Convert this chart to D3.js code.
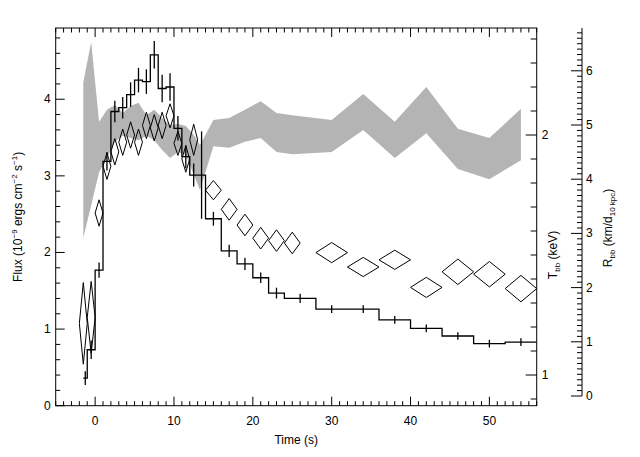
<!DOCTYPE html>
<html><head><meta charset="utf-8">
<script src="https://cdn.jsdelivr.net/npm/d3@7"></script>
<style>body{margin:0;background:#fff}svg{font-family:"Liberation Sans",Arial,sans-serif}</style>
</head><body><svg id="c" width="640" height="457"></svg>
<script>
// Flux histogram: bin edges and values (10^-9 erg cm^-2 s^-1)
const fluxEdges = [-1.5,-1,0,1,2,3,4,5,6,7,8,9,10,11,12,13,14,16,18,20,22,24,28,32,36,40,44,48,52,56];
const fluxVals  = [0.36,0.73,1.77,3.19,3.84,3.89,4.06,4.25,4.23,4.58,4.14,4.16,3.62,3.25,3.01,3.01,2.44,2.02,1.85,1.67,1.47,1.40,1.26,1.26,1.12,1.01,0.91,0.81,0.83];
const fluxErr   = [0.09,0.12,0.10,0.12,0.14,0.14,0.16,0.16,0.16,0.18,0.18,0.18,0.16,0.15,0.15,0.57,0.09,0.08,0.08,0.07,0.07,0.06,0.05,0.05,0.05,0.05,0.05,0.05,0.05];
// Blackbody temperature (diamonds)
const tbbTime = [-1.5,-0.5,0.5,1.5,2.5,3.5,4.5,5.5,6.5,7.5,8.5,9.5,10.5,11.5,12.5,15,17,19,21,23,25,30,34,38,42,46,50,54];
const tbbHalfW= [0.5,0.5,0.5,0.5,0.5,0.5,0.5,0.5,0.5,0.5,0.5,0.5,0.5,0.5,0.5,1,1,1,1,1,1,2,2,2,2,2,2,2];
const tbbVal  = [1.215,1.24,1.675,1.87,1.93,1.97,2.0,1.97,2.04,2.03,2.04,2.08,1.965,1.90,1.98,1.77,1.69,1.625,1.57,1.56,1.55,1.51,1.45,1.48,1.365,1.43,1.42,1.36];
const tbbErr  = [0.17,0.15,0.055,0.055,0.055,0.055,0.055,0.055,0.055,0.055,0.055,0.05,0.05,0.055,0.065,0.04,0.045,0.045,0.045,0.045,0.045,0.042,0.04,0.04,0.042,0.053,0.053,0.055];
// Blackbody radius band (km / d10kpc)
const rbbTime = [-1.5,-0.5,0.5,1.5,2.5,3.5,4.5,5.5,6.5,7.5,8.5,9.5,10.5,11.5,12.5,13.3,15,17,19,21,23,25,30,34,38,42,46,50,54];
const rbbHi   = [5.79,6.53,5.06,5.28,5.37,5.22,5.35,5.41,5.18,5.28,5.13,5.00,5.02,4.98,4.82,4.63,5.09,5.13,5.28,5.44,5.22,5.18,5.09,5.57,5.06,5.70,4.93,4.76,5.30];
const rbbLo   = [2.92,3.52,4.13,4.39,4.69,4.80,4.76,4.72,4.80,4.72,4.54,4.39,4.50,4.45,4.08,3.80,4.61,4.58,4.69,4.76,4.50,4.46,4.50,4.91,4.39,4.85,4.19,4.00,4.35];
const xTicks = [0,10,20,30,40,50];
const yTicks = [0,1,2,3,4];
const tTicks = [1,2];
const rTicks = [0,1,2,3,4,5,6];

const svg = d3.select("#c");
const L=55.7,R=536.7,T=28,B=405.7;
const x = d3.scaleLinear().domain([-5,56]).range([L,R]);
const y = d3.scaleLinear().domain([0,4.93]).range([B,T]);
const yt = d3.scaleLinear().domain([1+(375-B)/240, 1+(375-T)/240]).range([B,T]);
const yr = d3.scaleLinear().domain([(396-B)/54.2, (396-T)/54.2]).range([B,T]);

// band
const band = rbbTime.map((t,i)=>({t,hi:rbbHi[i],lo:rbbLo[i]}));
svg.append("path").datum(band).attr("fill","#b4b4b4")
  .attr("d",d3.area().x(d=>x(d.t)).y0(d=>yr(d.lo)).y1(d=>yr(d.hi)));

// flux histogram
const steps=[];
fluxVals.forEach((v,i)=>{steps.push([fluxEdges[i],v]);steps.push([fluxEdges[i+1],v]);});
svg.append("path").datum(steps).attr("fill","none").attr("stroke","#000").attr("stroke-width",1.3)
  .attr("d",d3.line().x(d=>x(d[0])).y(d=>y(d[1])));
svg.append("line").attr("x1",x(-1.5)).attr("x2",x(-1.5)).attr("y1",y(fluxVals[0])).attr("y2",y(0.36)).attr("stroke","#000");
svg.selectAll("line.err").data(fluxVals).join("line").attr("stroke","#000").attr("stroke-width",1.3)
  .attr("x1",(d,i)=>x((fluxEdges[i]+fluxEdges[i+1])/2)).attr("x2",(d,i)=>x((fluxEdges[i]+fluxEdges[i+1])/2))
  .attr("y1",(d,i)=>y(d-fluxErr[i])).attr("y2",(d,i)=>y(d+fluxErr[i]));

// diamonds
svg.selectAll("path.dia").data(tbbTime).join("path").attr("fill","none").attr("stroke","#000").attr("stroke-width",1)
  .attr("d",(t,i)=>{const v=tbbVal[i],w=tbbHalfW[i],e=tbbErr[i];
    return `M${x(t-w)},${yt(v)}L${x(t)},${yt(v+e)}L${x(t+w)},${yt(v)}L${x(t)},${yt(v-e)}Z`;});

// frame
svg.append("rect").attr("x",L).attr("y",T).attr("width",R-L).attr("height",B-T).attr("fill","none").attr("stroke","#000");
const g = svg.append("g").attr("stroke","#000");
function tick(x1,y1,x2,y2){g.append("line").attr("x1",x1).attr("y1",y1).attr("x2",x2).attr("y2",y2);}
d3.range(-5,57,1).forEach(v=>{const len=v%10===0?9:4.5;tick(x(v),B,x(v),B-len);tick(x(v),T,x(v),T+len);});
d3.range(0,4.95,0.2).forEach(v=>{const len=Math.abs(v-Math.round(v))<1e-6?9:4.5;tick(L,y(v),L+len,y(v));});
d3.range(0.9,2.45,0.1).forEach(v=>{const len=Math.abs(v-Math.round(v))<1e-6?11:6;tick(R,yt(v),R-len,yt(v));});
// Rbb axis
const RX=582;
tick(RX,yr(0),RX,T);
d3.range(0,6.8,0.1).forEach(v=>{const len=Math.abs(v-Math.round(v))<1e-6?11:5;tick(RX,yr(v),RX-len,yr(v));});

const txt=(xx,yy,s,anchor)=>svg.append("text").attr("x",xx).attr("y",yy).attr("font-size",12).attr("text-anchor",anchor||"middle").text(s);
xTicks.forEach(v=>txt(x(v),B+19,v));
yTicks.forEach(v=>txt(L-5,y(v)+4,v,"end"));
tTicks.forEach(v=>txt(R+5,yt(v)+4,v,"start"));
rTicks.forEach(v=>txt(RX+4,yr(v)+4,v,"start"));
txt((L+R)/2,444,"Time (s)");

// Y titles
const fl=svg.append("text").attr("transform",`translate(22,${(T+B)/2}) rotate(-90)`).attr("font-size",12).attr("text-anchor","middle");
fl.append("tspan").text("Flux (10");
fl.append("tspan").attr("dy",-5).attr("font-size",8).text("−9");
fl.append("tspan").attr("dy",5).text(" ergs cm");
fl.append("tspan").attr("dy",-5).attr("font-size",8).text("−2");
fl.append("tspan").attr("dy",5).text(" s");
fl.append("tspan").attr("dy",-5).attr("font-size",8).text("−1");
fl.append("tspan").attr("dy",5).text(")");
const tl=svg.append("text").attr("transform",`translate(557,${yt(1.5)}) rotate(-90)`).attr("font-size",12).attr("text-anchor","middle");
tl.append("tspan").text("T");
tl.append("tspan").attr("dy",3).attr("font-size",8).text("bb");
tl.append("tspan").attr("dy",-3).text(" (keV)");
const rl=svg.append("text").attr("transform",`translate(612,${yr(3.1)}) rotate(-90)`).attr("font-size",12).attr("text-anchor","middle");
rl.append("tspan").text("R");
rl.append("tspan").attr("dy",3).attr("font-size",8).text("bb");
rl.append("tspan").attr("dy",-3).text(" (km/d");
rl.append("tspan").attr("dy",3).attr("font-size",8).text("10 kpc");
rl.append("tspan").attr("dy",-3).text(")");
</script></body></html>
